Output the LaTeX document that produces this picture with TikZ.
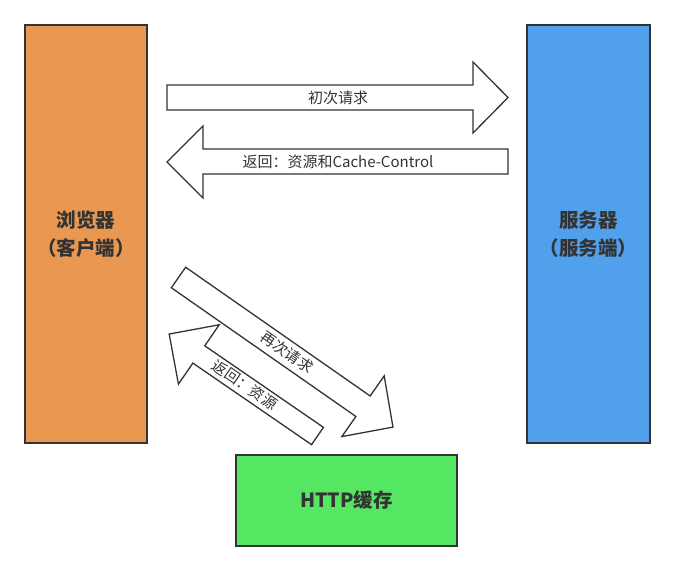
\documentclass[tikz,border=0pt]{standalone}
\usepackage{fontspec}
\newfontfamily\cjk{Noto Sans CJK SC}
\definecolor{cOrange}{RGB}{234,151,82}
\definecolor{cBlue}{RGB}{81,160,236}
\definecolor{cGreen}{RGB}{85,230,98}
\definecolor{cLine}{RGB}{51,51,51}
\definecolor{cText}{RGB}{51,51,51}
\begin{document}
\begin{tikzpicture}[x=1pt,y=-1pt,
  box/.style={draw=cLine,line width=1.8pt,inner sep=0pt,text=cText,
    font=\cjk\bfseries\fontsize{19.5}{28}\selectfont,align=center},
  bigarrow/.style={draw=cLine,line width=1.3pt,fill=white,line join=miter},
  alabel/.style={text=cText,font=\cjk\fontsize{15}{16}\selectfont,inner sep=0pt}]
\useasboundingbox (0,0) rectangle (675,572);
\node[box,fill=cOrange,minimum width=122pt,minimum height=418pt] (browser) at (86,234) {浏览器\\（客户端）};
\node[box,fill=cBlue,minimum width=123pt,minimum height=418pt] (server) at (588.5,234) {服务器\\（服务端）};
\node[box,fill=cGreen,minimum width=221pt,minimum height=91pt] (cache) at (346.5,500.5) {HTTP缓存};
% first request
\draw[bigarrow] (167,85) -- (473,85) -- (473,62) -- (508,97.5) -- (473,133) -- (473,110) -- (167,110) -- cycle;
\node[alabel] (req1) at (338,98) {初次请求};
% response
\draw[bigarrow] (508,149) -- (203,149) -- (203,126) -- (167,162) -- (203,198) -- (203,174) -- (508,174) -- cycle;
\node[alabel] (resp1) at (338,161.5) {返回：资源和Cache-Control};
% second request (diagonal)
\begin{scope}[shift={(178.5,277.5)},rotate=-34.9]
\draw[bigarrow] (0,-12.5) -- (225,-12.5) -- (225,-37) -- (261.5,0) -- (225,37) -- (225,12.5) -- (0,12.5) -- cycle;
\end{scope}
\node[alabel,rotate=-34.9] (req2) at (287,352) {再次请求};
% response from cache
\begin{scope}[shift={(317.5,436)},rotate=145.5]
\draw[bigarrow] (0,-10.5) -- (144,-10.5) -- (144,-36) -- (180,0) -- (144,36) -- (144,10.5) -- (0,10.5) -- cycle;
\end{scope}
\node[alabel,rotate=-34.5] (resp2) at (245,385) {返回：资源};
\end{tikzpicture}
\end{document}
